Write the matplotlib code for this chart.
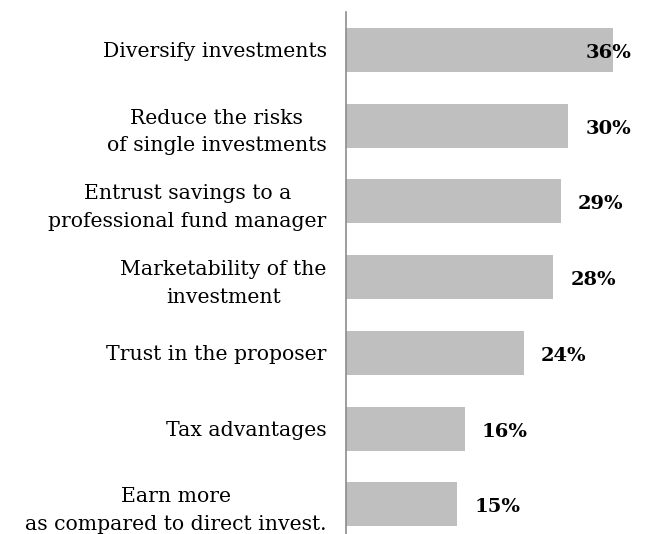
import matplotlib
matplotlib.use("Agg")
from matplotlib import pyplot
import numpy as np

reasons = [
    "Diversify investments",
    "Reduce the risks\nof single investments",
    "Entrust savings to a\nprofessional fund manager",
    "Marketability of the\ninvestment",
    "Trust in the proposer",
    "Tax advantages",
    "Earn more\nas compared to direct invest.",
]
shares = [36, 30, 29, 28, 24, 16, 15]

pyplot.rcParams['font.family'] = ['DejaVu Serif']

fig = pyplot.figure(figsize=(6.47, 5.34), dpi=100)
ax = fig.add_axes([346 / 647., 0.0, (640 - 346) / 647., (534 - 12) / 534.])

pos = np.arange(len(shares))
ax.barh(pos, shares, height=0.58, color='#bfbfbf')

ax.set_xlim(0, 294 / 7.41)
ax.set_ylim(len(shares) - 0.61, -0.5)

# value labels sit just right of the bar, the longest one is pulled back in
for p, v in zip(pos, shares):
    x = min(v, 30) + 2.3
    ax.text(x, p + 0.04, '%d%%' % v, ha='left', va='center',
            fontsize=14, fontweight='bold', color='black')

ax.set_yticks(pos)
ax.set_yticklabels(reasons, fontsize=14.7, linespacing=1.56,
                   multialignment='center')
ax.tick_params(axis='y', length=0, pad=14)
ax.set_xticks([])

for side in ['top', 'right', 'bottom']:
    ax.spines[side].set_visible(False)
ax.spines['left'].set_color('#8c8c8c')
ax.spines['left'].set_linewidth(1.2)

pyplot.savefig('out.png', dpi=100)
pyplot.close()
